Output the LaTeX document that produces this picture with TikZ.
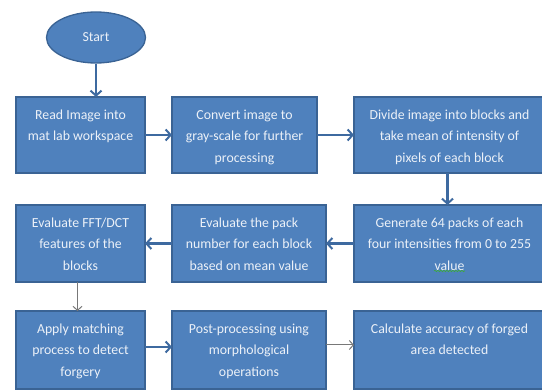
\documentclass[tikz,border=0pt]{standalone}
\usepackage{fontspec}
\setmainfont{Carlito}
\usetikzlibrary{arrows.meta,shapes.geometric,decorations.pathmorphing}

\definecolor{boxfill}{HTML}{4F81BD}
\definecolor{boxline}{HTML}{3A6394}
\definecolor{flowblue}{RGB}{62,106,160}
\definecolor{flowgray}{RGB}{120,120,120}
\definecolor{boxtext}{RGB}{236,241,248}
\definecolor{spellgreen}{RGB}{60,170,60}

% text block of a process box: top aligned, centred lines
\newcommand\boxlines[3]{%
  \parbox[c][#2][t]{#1}{\fontsize{13.8}{21.5}\selectfont\centering
    \rule{0pt}{22.5pt}#3\par}}

\tikzset{
  procbox/.style={draw=boxline, fill=boxfill, line width=1.3pt,
    rectangle, inner sep=0pt, outer sep=0pt, anchor=north west,
    text=boxtext},
  startnode/.style={draw=boxline, fill=boxfill, line width=1.3pt,
    ellipse, inner sep=0pt, minimum width=99pt, minimum height=51pt,
    text=boxtext, font=\fontsize{13.8}{16}\selectfont},
  flowmain/.style={draw=flowblue, line width=2.4pt,
    -{Straight Barb[length=5pt,width=11pt,line width=2pt]}},
  flowthin/.style={draw=flowgray, line width=1pt,
    -{Straight Barb[length=4pt,width=9pt,line width=1pt]}},
}

\begin{document}
\begin{tikzpicture}[x=1pt,y=-1pt]
\useasboundingbox (0,0) rectangle (542,390);
\fill[white] (0,0) rectangle (542,390);

\node[startnode] (start) at (96,37.5) {Start};

% first row
\node[procbox] (b1) at (16,97)  {\boxlines{129pt}{76pt}{Read Image into\\mat lab workspace}};
\node[procbox] (b2) at (172,97) {\boxlines{145pt}{76pt}{Convert image to\\gray-scale for further\\processing}};
\node[procbox] (b3) at (354,97) {\boxlines{191pt}{76pt}{Divide image into blocks and\\take mean of intensity of\\pixels of each block}};

% second row
\node[procbox] (b4) at (16,205)  {\boxlines{129pt}{77pt}{Evaluate FFT/DCT\\features of the\\blocks}};
\node[procbox] (b5) at (172,205) {\boxlines{154pt}{77pt}{Evaluate the pack\\number for each block\\based on mean value}};
\node[procbox] (b6) at (354,205) {\boxlines{191pt}{77pt}{Generate 64 packs of each\\four intensities from 0 to 255\\value}};

% third row
\node[procbox] (b7) at (16,311)  {\boxlines{129pt}{78pt}{Apply matching\\process to detect\\forgery}};
\node[procbox] (b8) at (172,311) {\boxlines{154pt}{78pt}{Post-processing using\\morphological\\operations}};
\node[procbox] (b9) at (354,311) {\boxlines{191pt}{78pt}{Calculate accuracy of forged\\area detected}};

% spell-check squiggle under the last word of b6
\coordinate (sqa) at (434,271);
\coordinate (sqb) at (465,271);
\draw[spellgreen, line width=0.6pt,
  decorate, decoration={snake, segment length=3pt, amplitude=0.8pt}]
  (sqa) -- (sqb);

% connectors
\draw[flowmain] (start.south) -- (start.south |- b1.north);
\draw[flowmain] (b1.east) -- (b2.west);
\draw[flowmain] (b2.east) -- (b3.west);
\draw[flowmain] ([xshift=-2pt]b3.south) -- ([xshift=-2pt]b3.south |- b6.north);
\draw[flowmain] (b6.west) -- (b5.east);
\draw[flowmain] (b5.west) -- (b4.east);
\draw[flowthin] ([xshift=-3pt]b4.south) -- ([xshift=-3pt]b4.south |- b7.north);
\draw[flowmain] ([yshift=3pt]b7.east) -- ([yshift=3pt]b8.west);
\draw[flowthin] ([yshift=5pt]b8.east) -- ([yshift=5pt]b9.west);
\end{tikzpicture}
\end{document}
